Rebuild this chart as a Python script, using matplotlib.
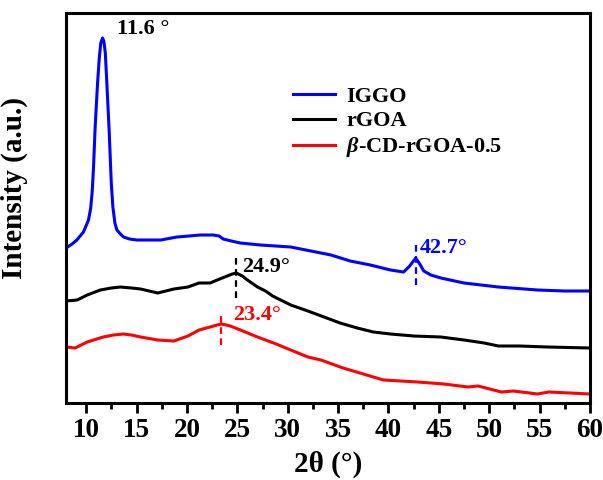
import numpy as np
import matplotlib
matplotlib.use('Agg')
import matplotlib.pyplot as plt
from matplotlib.ticker import MultipleLocator

# XRD patterns (2theta in degrees, intensity in arbitrary units, curves already offset)
iggo_2t = [8.0, 8.6, 9.07, 9.73, 10.23, 10.45, 10.6, 10.73, 10.89, 11.13, 11.3, 11.45,
           11.62, 11.75, 11.9, 12.05, 12.29, 12.49, 12.65, 12.85, 13.05, 13.4, 13.71,
           14.3, 15.04, 16.2, 17.4, 19.0, 20.2, 21.3, 22.6, 23.2, 23.6, 24.4, 25.3,
           27.3, 30.3, 32.3, 34.3, 36.2, 38.2, 40.2, 41.5, 42.1, 42.7, 43.1, 43.5,
           44.2, 45.2, 47.5, 50.9, 54.8, 57.5, 60.0]
iggo_int = [155, 159, 163, 171, 183, 195, 212, 236, 276, 320, 345, 360,
            365, 362, 350, 320, 270, 220, 196, 180, 173, 169, 166,
            164, 163, 163, 163, 166, 167, 168, 168, 167, 164, 162, 160,
            158, 156, 152, 148, 142, 138, 133, 131, 137, 145, 139, 132,
            128, 125, 120, 116, 113, 112, 112]

rgoa_2t = [8.0, 9.1, 10.1, 11.4, 12.5, 13.4, 14.5, 15.4, 17.1, 18.7, 20.1, 21.2,
           22.3, 23.0, 24.0, 24.5, 24.9, 25.5, 26.0, 27.0, 27.8, 28.5, 30.3, 32.0,
           33.6, 35.2, 36.9, 38.5, 40.2, 42.5, 45.2, 47.5, 49.5, 50.9, 53.0, 55.8,
           60.0]
rgoa_int = [102, 103, 108, 113, 115, 116, 115, 114, 110, 114, 116, 120,
            120, 123, 127, 129, 130, 127, 123, 116, 112, 107, 98, 92,
            86, 80, 75, 71, 69, 67, 66, 63, 60, 57, 57, 56,
            55]

cd_2t = [8.0, 8.9, 10.1, 11.7, 12.7, 13.7, 14.5, 15.4, 17.1, 18.7, 20.1, 21.2,
         22.3, 23.0, 23.4, 23.9, 24.3, 25.3, 27.0, 28.6, 30.3, 32.0, 33.3, 35.5,
         37.5, 39.5, 42.9, 45.5, 47.9, 48.9, 51.2, 52.4, 54.8, 55.9, 58.0, 60.0]
cd_int = [56, 55, 61, 66, 68, 69, 68, 66, 63, 62, 67, 73,
          76, 78, 79, 78, 77, 73, 66, 60, 53, 46, 43, 35,
          29, 23, 21, 19, 16, 17, 11, 12, 9, 11, 10, 9]

labels = ['IGGO', 'rGOA', r'$\beta$-CD-rGOA-0.5']
colors = ['#0000ff', '#000000', '#ff0000']

# peak markers: (position, dash from, dash to, label, label x, label baseline, colour)
peaks = [
    (24.9, 105, 148, '24.9°', 25.5, 131, '#000000'),
    (23.4, 58, 88, '23.4°', 24.6, 83, '#ff0000'),
    (42.7, 118, 161, '42.7°', 43.1, 150, '#0000ff'),
]

plt.rcParams['font.family'] = 'Liberation Serif'
plt.rcParams['font.weight'] = 'bold'
plt.rcParams['mathtext.fontset'] = 'custom'
plt.rcParams['mathtext.rm'] = 'Liberation Serif:bold'
plt.rcParams['mathtext.it'] = 'Liberation Serif:italic:bold'
plt.rcParams['mathtext.bf'] = 'Liberation Serif:bold'

fig = plt.figure(figsize=(6.03, 4.8), dpi=100)
ax = fig.add_axes([0.1095, 0.1604, 0.869, 0.8125])

for xs, ys, lab, c in zip([iggo_2t, rgoa_2t, cd_2t], [iggo_int, rgoa_int, cd_int],
                          labels, colors):
    ax.plot(xs, ys, color=c, lw=2.2, label=lab, solid_joinstyle='round')

for x0, y0, y1, txt, tx, ty, c in peaks:
    ax.plot([x0, x0], [y0, y1], color=c, lw=1.6, ls=(0, (3, 2)))
    ax.text(tx, ty, txt, color=c, fontsize=16, fontweight='bold', ha='left', va='baseline')

ax.text(13.08, 369, '11.6 °', color='#000000', fontsize=16, fontweight='bold',
        ha='left', va='baseline')

ax.set_xlim(8, 60)
ax.set_ylim(0, 390)
ax.xaxis.set_major_locator(MultipleLocator(5))
ax.xaxis.set_minor_locator(MultipleLocator(2.5))
ax.tick_params(axis='x', which='major', direction='out', length=7, width=2,
               labelsize=19.5, pad=4)
ax.tick_params(axis='x', which='minor', direction='out', length=4, width=2)
ax.set_yticks([])
for s in ax.spines.values():
    s.set_linewidth(2.2)

ax.set_xlabel('2θ (°)', fontsize=21, fontweight='bold', labelpad=5)
ax.set_ylabel('Intensity (a.u.)', fontsize=21, fontweight='bold')
ax.yaxis.set_label_coords(-0.073, 0.551)

ax.legend(loc='upper left', bbox_to_anchor=(0.433, 0.812), frameon=False,
          fontsize=16, handlelength=1.9, handletextpad=0.5, labelspacing=0.18,
          borderpad=0, borderaxespad=0)

fig.savefig('out.png', dpi=100)
